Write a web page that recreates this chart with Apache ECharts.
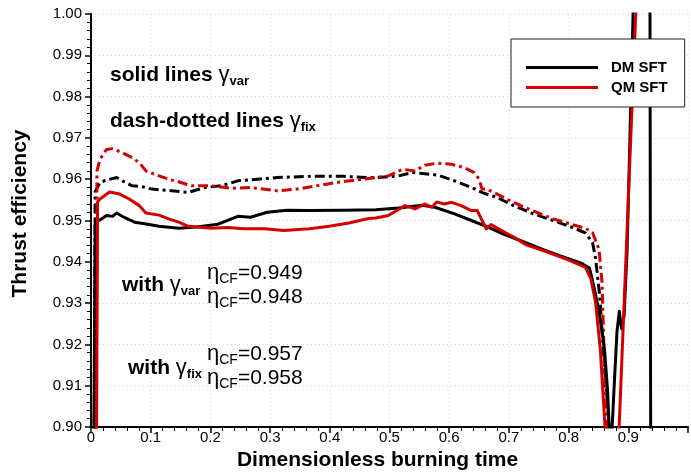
<!DOCTYPE html>
<html>
<head>
<meta charset="utf-8">
<script src="https://cdn.jsdelivr.net/npm/echarts@6/dist/echarts.min.js"></script>
<style>
  html, body { margin: 0; padding: 0; background: #fff; }
  #chart { width: 691px; height: 476px; }
</style>
</head>
<body>
<div id="chart"></div>
<script>
// Thrust efficiency vs dimensionless burning time: [time, efficiency]
// solid lines: variable gamma; dash-dotted lines: fixed gamma
const dmVar = [
  [0.003, 0.85], [0.007, 0.9500], [0.015, 0.9501], [0.026, 0.9512], [0.036, 0.9510],
  [0.043, 0.9518], [0.055, 0.9508], [0.073, 0.9496], [0.090, 0.9492], [0.114, 0.9486],
  [0.147, 0.9481], [0.180, 0.9485], [0.213, 0.9491], [0.246, 0.9510], [0.267, 0.9508],
  [0.295, 0.9520], [0.328, 0.9525], [0.366, 0.9524], [0.422, 0.9525], [0.477, 0.9526],
  [0.515, 0.9530], [0.555, 0.9537], [0.576, 0.9532], [0.609, 0.9516], [0.637, 0.9500],
  [0.662, 0.9486], [0.691, 0.9467], [0.720, 0.9451], [0.753, 0.9432], [0.786, 0.9414],
  [0.819, 0.9398], [0.835, 0.9385], [0.840, 0.9355], [0.845, 0.9322], [0.852, 0.9270],
  [0.860, 0.9190], [0.865, 0.9094], [0.868, 0.9000], [0.8705, 0.8960], [0.873, 0.9000],
  [0.876, 0.9090], [0.881, 0.9230], [0.885, 0.9280], [0.887, 0.9255], [0.889, 0.9238],
  [0.893, 0.9270], [0.898, 0.9430], [0.908, 1.0000], [0.912, 1.0300], [0.936, 1.0300],
  [0.938, 0.8500]
];
const qmVar = [
  [0.008, 0.85], [0.011, 0.9545], [0.015, 0.9552], [0.031, 0.9569], [0.048, 0.9564],
  [0.064, 0.9552], [0.081, 0.9536], [0.092, 0.9518], [0.114, 0.9513], [0.130, 0.9504],
  [0.147, 0.9496], [0.163, 0.9486], [0.201, 0.9481], [0.229, 0.9483], [0.257, 0.9480],
  [0.290, 0.9480], [0.323, 0.9476], [0.366, 0.9480], [0.399, 0.9486], [0.432, 0.9494],
  [0.465, 0.9505], [0.477, 0.9506], [0.498, 0.9512], [0.526, 0.9536], [0.543, 0.9528],
  [0.559, 0.9540], [0.571, 0.9532], [0.579, 0.9545], [0.592, 0.9540], [0.604, 0.9544],
  [0.620, 0.9536], [0.637, 0.9524], [0.647, 0.9524], [0.662, 0.9480], [0.670, 0.9490],
  [0.687, 0.9476], [0.708, 0.9460], [0.729, 0.9441], [0.762, 0.9425], [0.795, 0.9407],
  [0.828, 0.9387], [0.837, 0.9360], [0.845, 0.9304], [0.853, 0.9190], [0.861, 0.9000],
  [0.866, 0.8800], [0.872, 0.8700], [0.878, 0.8760], [0.9125, 1.0000], [0.918, 1.0200]
];
const dmFix = [
  [0.004, 0.85], [0.007, 0.9570], [0.015, 0.9592], [0.026, 0.9598], [0.043, 0.9604],
  [0.055, 0.9594], [0.069, 0.9584], [0.085, 0.9582], [0.102, 0.9576], [0.135, 0.9572],
  [0.163, 0.9568], [0.191, 0.9580], [0.218, 0.9584], [0.246, 0.9596], [0.279, 0.9600],
  [0.312, 0.9604], [0.366, 0.9607], [0.422, 0.9607], [0.460, 0.9604], [0.477, 0.9604],
  [0.515, 0.9608], [0.538, 0.9616], [0.555, 0.9614], [0.581, 0.9610], [0.609, 0.9596],
  [0.637, 0.9580], [0.658, 0.9566], [0.680, 0.9556], [0.708, 0.9536], [0.741, 0.9516],
  [0.774, 0.9500], [0.807, 0.9483], [0.828, 0.9470], [0.840, 0.9447], [0.845, 0.9410],
  [0.852, 0.9320], [0.860, 0.9150], [0.868, 0.9000], [0.874, 0.8800]
];
const qmFix = [
  [0.008, 0.85], [0.010, 0.9620], [0.015, 0.9648], [0.026, 0.9672], [0.036, 0.9674],
  [0.053, 0.9664], [0.069, 0.9652], [0.081, 0.9640], [0.092, 0.9620], [0.114, 0.9608],
  [0.135, 0.9598], [0.142, 0.9596], [0.168, 0.9584], [0.201, 0.9584], [0.234, 0.9578],
  [0.267, 0.9580], [0.312, 0.9572], [0.345, 0.9576], [0.378, 0.9584], [0.411, 0.9592],
  [0.444, 0.9598], [0.477, 0.9604], [0.498, 0.9608], [0.522, 0.9624], [0.543, 0.9620],
  [0.559, 0.9634], [0.581, 0.9639], [0.604, 0.9636], [0.625, 0.9628], [0.642, 0.9616],
  [0.650, 0.9600], [0.655, 0.9576], [0.663, 0.9576], [0.675, 0.9568], [0.696, 0.9552],
  [0.720, 0.9536], [0.746, 0.9520], [0.774, 0.9504], [0.802, 0.9492], [0.828, 0.9481],
  [0.840, 0.9471], [0.851, 0.9430], [0.856, 0.9350], [0.861, 0.9100], [0.864, 0.9000],
  [0.870, 0.8800]
];

// mean thrust-efficiency figures quoted on the plot
const etaVar = { dm: '0.949', qm: '0.948' };
const etaFix = { dm: '0.957', qm: '0.958' };

const legendNames = ['DM SFT', 'QM SFT'];

const FONT = "'Liberation Sans', Arial, Helvetica, sans-serif";
const BLACK = '#000000';
const RED = '#d40000';
const DASH_DOT = [10, 4, 3, 4];

const chart = echarts.init(document.getElementById('chart'), null, { renderer: 'canvas' });

function lineSeries(name, data, color, dashed, z) {
  return {
    name: name,
    type: 'line',
    data: data,
    showSymbol: false,
    symbol: 'none',
    clip: true,
    z: z,
    animation: false,
    color: color,
    lineStyle: { color: color, width: 3, type: dashed ? DASH_DOT : 'solid', cap: 'butt', join: 'round' }
  };
}

// rich-text styles shared by the annotations
const rich = (color) => ({
  b: { fontFamily: FONT, fontSize: 21, fontWeight: 'bold', color: BLACK, lineHeight: 26 },
  g: { fontFamily: FONT, fontSize: 22, fontWeight: 'normal', color: BLACK, lineHeight: 26 },
  s: { fontFamily: FONT, fontSize: 13, fontWeight: 'bold', color: BLACK, lineHeight: 14, verticalAlign: 'bottom' },
  e: { fontFamily: FONT, fontSize: 22, color: color, lineHeight: 26 },
  c: { fontFamily: FONT, fontSize: 14, color: color, lineHeight: 14, verticalAlign: 'bottom' },
  n: { fontFamily: FONT, fontSize: 21, color: color, lineHeight: 26 }
});

function note(x, y, text, color) {
  return {
    type: 'text',
    x: x, y: y,
    z: 100,
    style: { text: text, align: 'left', verticalAlign: 'middle', rich: rich(color || BLACK) }
  };
}

const option = {
  backgroundColor: '#ffffff',
  animation: false,
  grid: { left: 91, top: 14, right: -6, bottom: 47, containLabel: false },
  xAxis: {
    type: 'value',
    min: 0, max: 1, interval: 0.1,
    name: 'Dimensionless burning time',
    nameLocation: 'middle',
    nameGap: 23,
    nameTextStyle: { fontFamily: FONT, fontSize: 21, fontWeight: 'bold', color: BLACK, padding: [0, 24, 0, 0] },
    axisLine: { show: true, onZero: false, lineStyle: { color: BLACK, width: 2 } },
    axisTick: { show: true, inside: false, length: 6, lineStyle: { color: BLACK, width: 1.5 } },
    minorTick: { show: true, splitNumber: 5, length: 4, lineStyle: { color: BLACK, width: 1 } },
    axisLabel: {
      margin: 3, fontFamily: FONT, fontSize: 15, color: BLACK,
      formatter: (v) => (v === 0 ? '0' : (v >= 0.999 ? '' : v.toFixed(1)))
    },
    splitLine: { show: true, lineStyle: { color: '#d8d8d8', width: 1, type: [1, 3] } }
  },
  yAxis: {
    type: 'value',
    min: 0.9, max: 1.0, interval: 0.01,
    name: 'Thrust efficiency',
    nameLocation: 'middle',
    nameGap: 60,
    nameTextStyle: { fontFamily: FONT, fontSize: 21, fontWeight: 'bold', color: BLACK, padding: [0, 0, 0, 14] },
    axisLine: { show: true, onZero: false, lineStyle: { color: BLACK, width: 2 } },
    axisTick: { show: true, inside: false, length: 6, lineStyle: { color: BLACK, width: 1.5 } },
    minorTick: { show: true, splitNumber: 5, length: 4, lineStyle: { color: BLACK, width: 1 } },
    axisLabel: {
      margin: 9, fontFamily: FONT, fontSize: 15, color: BLACK,
      formatter: (v) => v.toFixed(2)
    },
    splitLine: { show: true, lineStyle: { color: '#d8d8d8', width: 1, type: [1, 3] } }
  },
  legend: {
    data: legendNames,
    orient: 'vertical',
    left: 511, top: 39,
    z: 50,
    padding: [21, 17, 12, 15],
    itemGap: 5,
    itemWidth: 72,
    itemHeight: 3,
    icon: 'rect',
    backgroundColor: '#ffffff',
    borderColor: '#222222',
    borderWidth: 1,
    selectedMode: false,
    textStyle: { fontFamily: FONT, fontSize: 15, fontWeight: 'bold', color: BLACK, padding: [0, 0, 0, 8] }
  },
  series: [
    lineSeries('DM SFT fix', dmFix, BLACK, true, 2),
    lineSeries('QM SFT fix', qmFix, RED, true, 3),
    lineSeries('DM SFT', dmVar, BLACK, false, 4),
    lineSeries('QM SFT', qmVar, RED, false, 5)
  ],
  graphic: [
    note(110, 75, '{b|solid lines }{g|γ}{s|var}'),
    note(110, 121, '{b|dash-dotted lines }{g|γ}{s|fix}'),
    note(122, 285, '{b|with }{g|γ}{s|var}'),
    note(207, 273, '{e|η}{c|CF}{n|=' + etaVar.dm + '}', BLACK),
    note(207, 297, '{e|η}{c|CF}{n|=' + etaVar.qm + '}', RED),
    note(128, 368, '{b|with }{g|γ}{s|fix}'),
    note(207, 354, '{e|η}{c|CF}{n|=' + etaFix.dm + '}', BLACK),
    note(207, 378, '{e|η}{c|CF}{n|=' + etaFix.qm + '}', RED)
  ]
};

chart.setOption(option);
</script>
</body>
</html>
